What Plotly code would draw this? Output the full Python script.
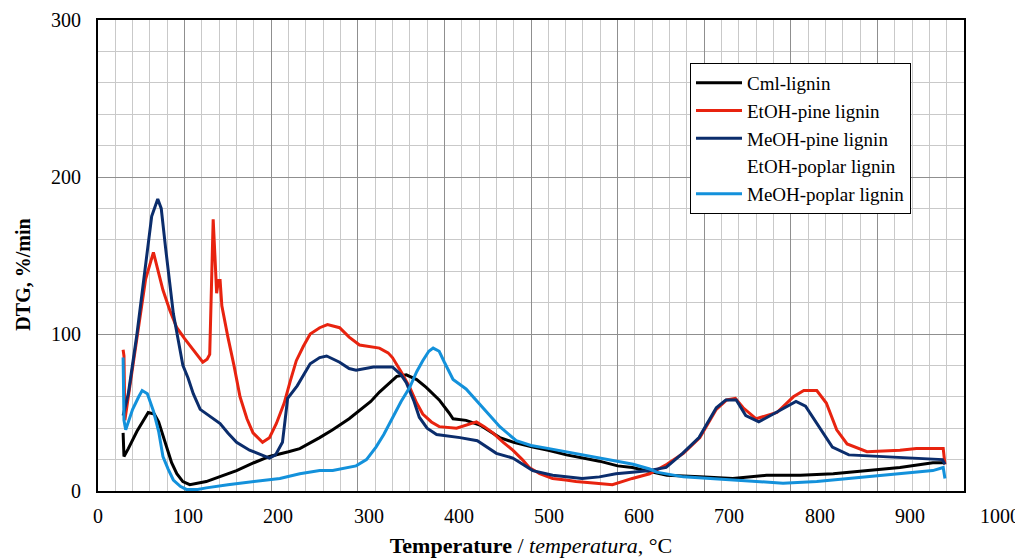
import plotly.graph_objects as go

# ---------------- data (temperature on the plot's grid scale, DTG %/min) ----------------
cml_T = [29, 30, 35, 45, 58, 65, 70, 79, 85, 91, 98, 106, 115, 125, 140, 160, 180, 198, 220, 233,
         256, 271, 290, 302, 315, 325, 335, 345, 356, 368, 379, 394, 405, 410, 425, 441, 464, 480,
         502, 520, 541, 560, 579, 600, 617, 640, 657, 695, 733, 772, 811, 849, 888, 926, 964, 978]
cml_V = [37, 22, 27, 38, 50, 49, 44, 28, 18, 11, 6, 4, 5, 6, 9, 13, 18, 22, 25, 27,
         34, 39, 46, 51, 57, 63, 68, 73, 74, 71, 66, 58, 50, 46, 45, 42, 34, 31,
         28, 26, 23, 21, 19, 16, 15, 12, 10, 9, 8, 10, 10, 11, 13, 15, 18, 18]

etp_T = [29, 30, 31, 35, 45, 55, 64, 70, 75, 83, 91, 100, 110, 121, 126, 129, 131, 133, 135, 137,
         139, 141, 143, 145, 150, 157, 164, 172, 179, 190, 198, 206, 215, 222, 229, 237, 245, 256,
         265, 279, 290, 302, 315, 325, 335, 340, 350, 360, 368, 375, 385, 394, 414, 425, 437, 446,
         456, 468, 479, 490, 498, 510, 525, 540, 552, 575, 594, 617, 637, 657, 676, 695, 714, 726,
         736, 745, 760, 784, 803, 815, 830, 841, 853, 865, 888, 926, 945, 976, 978]
etp_V = [90, 86, 45, 60, 100, 135, 152, 138, 128, 115, 104, 97, 90, 82, 84, 87, 130, 173, 150, 126,
         134, 134, 118, 112, 98, 80, 60, 46, 37, 31, 34, 43, 56, 70, 83, 92, 100, 104,
         106, 104, 98, 93, 92, 91, 88, 85, 76, 66, 56, 49, 44, 41, 40, 42, 44, 41,
         37, 31, 26, 20, 15, 11, 8, 7, 6, 5, 4, 8, 11, 17, 24, 34, 52, 58,
         59, 53, 46, 50, 60, 64, 64, 56, 39, 30, 25, 26, 27, 27, 17]

mep_T = [29, 35, 45, 55, 62, 69, 73, 78, 83, 87, 93, 98, 104, 110, 118, 130, 141, 150, 160, 175,
         190, 198, 205, 210, 213, 216, 219, 230, 245, 256, 264, 279, 290, 298, 318, 340, 350, 356,
         365, 371, 380, 391, 418, 438, 449, 460, 479, 490, 502, 525, 559, 579, 598, 617, 637, 656,
         675, 694, 714, 725, 737, 748, 763, 783, 806, 817, 833, 848, 867, 906, 944, 975, 978]
mep_V = [48, 62, 100, 145, 175, 186, 180, 155, 130, 113, 95, 80, 72, 62, 52, 47, 43, 37, 31, 26,
         23, 21, 23, 28, 31, 45, 59, 67, 81, 85, 86, 82, 78, 77, 79, 79, 74, 69,
         57, 47, 40, 36, 34, 32, 28, 24, 21, 17, 13, 10, 8, 9, 11, 12, 13, 15,
         24, 34, 53, 58, 58, 48, 44, 50, 57, 54, 41, 28, 23, 22, 21, 20, 17]

# EtOH-poplar lignin: listed in the legend but no curve is visible in the chart
etpop_T = [None]
etpop_V = [None]

mepop_T = [29, 30, 32, 40, 47, 51, 57, 64, 70, 75, 81, 87, 95, 102, 115, 125, 150, 179, 210, 233,
           256, 271, 298, 310, 321, 330, 340, 350, 360, 368, 375, 382, 387, 394, 400, 410, 425, 435,
           444, 454, 464, 483, 500, 521, 540, 559, 579, 598, 618, 637, 645, 676, 733, 791, 830, 888,
           926, 964, 976, 978]
mepop_V = [85, 45, 39, 52, 60, 64, 62, 51, 38, 22, 14, 7, 3, 1, 1, 2, 4, 6, 8, 11,
           13, 13, 16, 20, 28, 36, 47, 57, 66, 76, 83, 89, 91, 89, 82, 71, 65, 59,
           53, 47, 41, 32, 29, 27, 25, 23, 21, 19, 17, 14, 12, 9, 7, 5, 6, 9,
           11, 13, 15, 8]

series_names = ["Cml-lignin", "EtOH-pine lignin", "MeOH-pine lignin",
                "EtOH-poplar lignin", "MeOH-poplar lignin"]
series_colors = ["#000000", "#E8230F", "#0B2D6C", "rgba(255,255,255,0)", "#1391DB"]

x_tick_values = [0, 100, 200, 300, 400, 500, 600, 700, 800, 900, 1000]
x_tick_labels = ["0", "100", "200", "300", "400", "500", "600", "700", "800", "900", "1000"]
y_tick_values = [0, 100, 200, 300]

# ---------------- figure ----------------
FONT = "Liberation Serif, Times New Roman, serif"
# the page body has an 8 px default margin, so the figure is 8 px smaller each way
FIG_W, FIG_H = 1015, 550
M_L, M_R, M_T, M_B = 90, 59, 12, 67

fig = go.Figure()
data = [(cml_T, cml_V), (etp_T, etp_V), (mep_T, mep_V), (etpop_T, etpop_V), (mepop_T, mepop_V)]
for (xs, ys), name, col in zip(data, series_names, series_colors):
    fig.add_trace(go.Scatter(x=xs, y=ys, mode="lines", name=name,
                             line=dict(color=col, width=3)))

fig.update_layout(
    width=FIG_W, height=FIG_H,
    margin=dict(l=M_L, r=M_R, t=M_T, b=M_B),
    paper_bgcolor="white", plot_bgcolor="white",
    font=dict(family=FONT, size=19, color="black"),
    showlegend=True,
    legend=dict(x=0.6836, y=0.9087, xanchor="left", yanchor="top",
                bgcolor="white", bordercolor="black", borderwidth=1,
                font=dict(family=FONT, size=19, color="black"),
                itemwidth=46, tracegroupgap=0),
)

# The tick labels in the reference are spaced slightly wider than the grid
label_step_px = 90.2
plot_w = FIG_W - M_L - M_R
for i, t in enumerate(x_tick_labels):
    fig.add_annotation(x=(i * label_step_px) / plot_w, y=-0.053, xref="paper", yref="paper",
                       text=t, showarrow=False, xanchor="center", yanchor="middle",
                       font=dict(family=FONT, size=20, color="black"))

# y-axis title (sits a little below the middle of the axis in the reference)
fig.add_annotation(x=-0.087, y=0.4586, xref="paper", yref="paper",
                   text="<b>DTG, %/min</b>", textangle=-90, showarrow=False,
                   xanchor="center", yanchor="middle",
                   font=dict(family=FONT, size=20, color="black"))

fig.update_xaxes(
    range=[0, 1000], tickvals=x_tick_values, showticklabels=False, automargin=False,
    showgrid=True, gridcolor="#8F8F8F", gridwidth=1.3,
    minor=dict(dtick=20, showgrid=True, gridcolor="#C9C9C9", gridwidth=1.3),
    showline=True, linecolor="black", linewidth=2, mirror=True,
    zeroline=False, ticks="",
    title=dict(text="<b>Temperature</b> / <i>temperatura</i>, °C",
               font=dict(family=FONT, size=22, color="black"), standoff=49),
)
fig.update_yaxes(
    range=[0, 300], tickvals=y_tick_values, automargin=False,
    showgrid=True, gridcolor="#8F8F8F", gridwidth=1.3,
    minor=dict(dtick=20, showgrid=True, gridcolor="#C9C9C9", gridwidth=1.3),
    showline=True, linecolor="black", linewidth=2, mirror=True,
    zeroline=False, ticks="outside", ticklen=11, tickcolor="rgba(0,0,0,0)",
    tickfont=dict(family=FONT, size=20, color="black"),
)

fig.write_html("out.html")
